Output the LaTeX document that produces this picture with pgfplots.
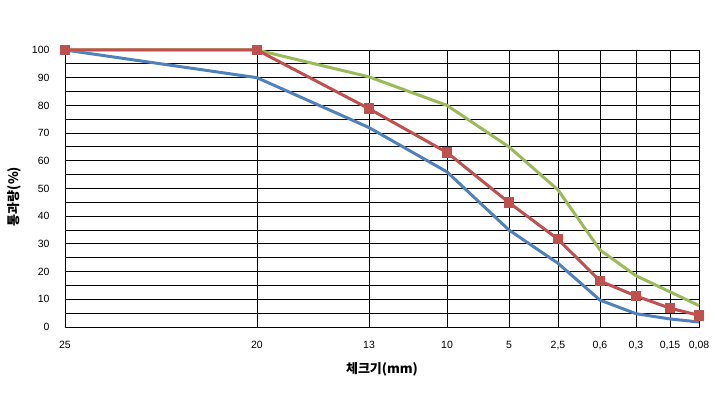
\documentclass[border=0pt]{standalone}
\usepackage{fontspec}
\setmainfont{Liberation Sans}
\newfontfamily\kr{Noto Sans CJK KR}
\usepackage{pgfplots}
\pgfplotsset{compat=1.18}
\definecolor{cblue}{HTML}{4F81BD}
\definecolor{cred}{HTML}{C0504D}
\definecolor{cgreen}{HTML}{9BBB59}
\begin{document}
\begin{tikzpicture}[x=1pt,y=1pt]
\path[use as bounding box] (0,0) rectangle (715,404);
\begin{axis}[
  at={(65pt,77pt)}, anchor=south west,
  scale only axis, width=634pt, height=277pt,
  xmin=65, xmax=699, ymin=0, ymax=100,
  xtick={65,257,369,447,509,558,600,636,670,699},
  xticklabels={25,20,13,10,5,{2,5},{0,6},{0,3},{0,15},{0,08}},
  ytick={0,10,...,100},
  minor ytick={5,15,...,95},
  grid=both,
  major grid style={black, line width=0.9pt},
  minor grid style={black, line width=0.9pt},
  axis line style={black, line width=0.9pt},
  major tick length=0pt, minor tick length=0pt,
  tick label style={font=\fontsize{10.5}{12}\selectfont},
  /pgf/number format/assume math mode=true,
  xticklabel style={yshift=-11pt},
  yticklabel style={xshift=-12pt},
  xlabel={\kr\bfseries 체크기(mm)},
  ylabel={\kr\bfseries 통과량(\%)},
  label style={font=\fontsize{13}{15}\selectfont},
  xlabel style={yshift=-5pt},
  ylabel style={yshift=4pt, xshift=-8pt},
  clip=false,
]
\addplot[cblue, line width=3pt, no markers] coordinates {
(65,100) (257,90) (369,72) (447,56) (509,35) (558,23) (600,9.7) (636,4.8) (670,2.9) (699,1.8)};
\addplot[cgreen, line width=3pt, no markers] coordinates {
(65,100) (257,100) (369,90.3) (447,80) (509,65) (558,49.5) (600,27.8) (636,18.5) (670,12.7) (699,7.7)};
\addplot[cred, line width=3pt, mark=square*, mark size=4.8pt, mark options={fill=cred, draw=cred, line width=0pt}] coordinates {
(65,100) (257,100) (369,78.8) (447,63) (509,44.9) (558,31.7) (600,16.6) (636,11.2) (670,6.8) (699,4.2)};
\end{axis}
\end{tikzpicture}
\end{document}
